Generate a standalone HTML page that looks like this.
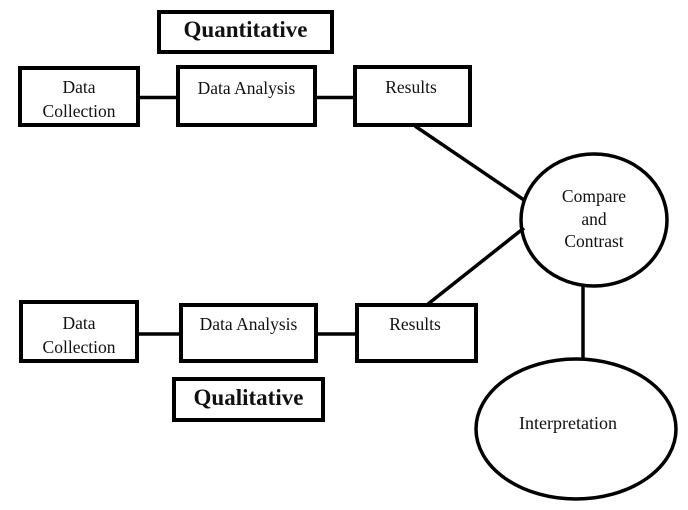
<!DOCTYPE html>
<html>
<head>
<meta charset="utf-8">
<style>
  html, body { margin: 0; padding: 0; background: #fff; }
  svg { display: block; }
  text { font-family: "Liberation Serif", "Times New Roman", serif; fill: #111; }
  .n { font-size: 17.5px; }
  .b { font-size: 23px; font-weight: bold; }
</style>
</head>
<body>
<svg width="688" height="510" viewBox="0 0 688 510" xmlns="http://www.w3.org/2000/svg">
  <g fill="none" stroke="#000" stroke-width="4">
    <!-- top row -->
    <rect x="159" y="12" width="173" height="40"/>
    <rect x="20" y="68" width="118" height="57"/>
    <rect x="178" y="67" width="137" height="58"/>
    <rect x="355" y="67" width="115" height="58"/>
    <!-- bottom row -->
    <rect x="21" y="302" width="116" height="59"/>
    <rect x="181" y="305" width="135" height="56"/>
    <rect x="357" y="305" width="119" height="56"/>
    <rect x="174" y="379" width="149" height="41"/>
  </g>
  <g stroke="#000" stroke-width="3.5" fill="none">
    <line x1="140" y1="97.5" x2="176" y2="97.5"/>
    <line x1="317" y1="97.5" x2="353" y2="97.5"/>
    <line x1="139" y1="334" x2="179" y2="334"/>
    <line x1="318" y1="334" x2="355" y2="334"/>
    <line x1="415" y1="126" x2="524" y2="200"/>
    <line x1="524" y1="228" x2="428" y2="304"/>
    <line x1="583" y1="286" x2="583" y2="360"/>
    <ellipse cx="594" cy="220" rx="73" ry="66"/>
    <ellipse cx="576" cy="429" rx="100" ry="70"/>
  </g>

  <text class="b" x="245.5" y="37" text-anchor="middle">Quantitative</text>
  <text class="n" x="79" y="93" text-anchor="middle">Data</text>
  <text class="n" x="79" y="117" text-anchor="middle">Collection</text>
  <text class="n" x="246.5" y="94" text-anchor="middle">Data Analysis</text>
  <text class="n" x="411" y="93" text-anchor="middle">Results</text>

  <text class="n" x="594" y="202" text-anchor="middle">Compare</text>
  <text class="n" x="594" y="225" text-anchor="middle">and</text>
  <text class="n" x="594" y="247" text-anchor="middle">Contrast</text>

  <text class="n" x="79" y="329" text-anchor="middle">Data</text>
  <text class="n" x="79" y="353" text-anchor="middle">Collection</text>
  <text class="n" x="248.5" y="330" text-anchor="middle">Data Analysis</text>
  <text class="n" x="415" y="330" text-anchor="middle">Results</text>
  <text class="b" x="248.5" y="405" text-anchor="middle">Qualitative</text>

  <text class="n" x="568" y="429" text-anchor="middle" style="font-size:18px">Interpretation</text>
</svg>
</body>
</html>
